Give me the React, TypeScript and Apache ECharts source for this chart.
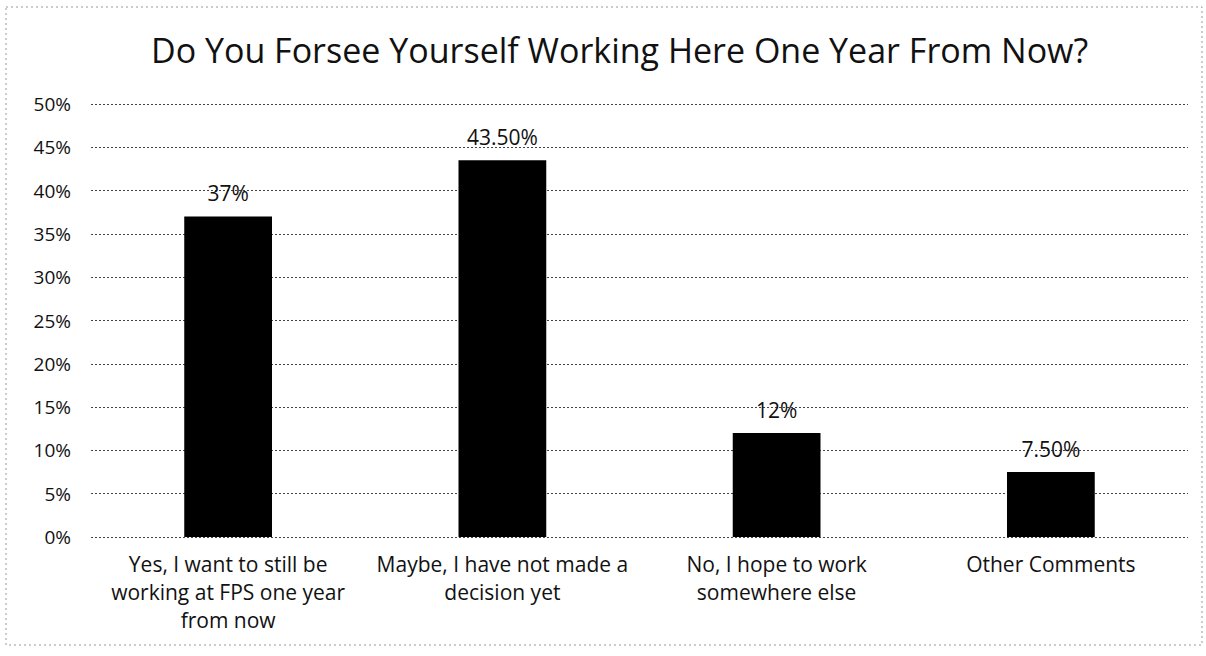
import React, { useEffect, useRef } from "react";
import * as echarts from "echarts";

const title = "Do You Forsee Yourself Working Here One Year From Now?";
const categories = [
  "Yes, I want to still be\nworking at FPS one year\nfrom now",
  "Maybe, I have not made a\ndecision yet",
  "No, I hope to work\nsomewhere else",
  "Other Comments",
];
const values = [37, 43.5, 12, 7.5];
const valueLabels = ["37%", "43.50%", "12%", "7.50%"];
const yTicks = { min: 0, max: 50, interval: 5 };

export default function App() {
  const ref = useRef<HTMLDivElement>(null);
  useEffect(() => {
    document.body.style.margin = "0";
    const chart = echarts.init(ref.current!, null, { renderer: "svg" });
    const font = "'Open Sans', Lato, sans-serif";
    chart.setOption({
      animation: false,
      backgroundColor: "#ffffff",
      title: {
        text: title,
        left: 146,
        top: 28,
        textStyle: { fontFamily: font, fontSize: 34, fontWeight: "normal", color: "#111" },
      },
      graphic: [
        {
          type: "rect",
          shape: { x: 6, y: 7, width: 1196, height: 638 },
          style: { fill: "none", stroke: "#999", lineWidth: 1, lineDash: [2, 3] },
          silent: true,
        },
      ],
      grid: { left: 91, right: 18, top: 104, bottom: 119, containLabel: false },
      xAxis: {
        type: "category",
        data: categories,
        axisLine: { show: false },
        axisTick: { show: false },
        axisLabel: {
          interval: 0,
          margin: 13,
          fontFamily: font,
          fontSize: 21,
          lineHeight: 28,
          color: "#111",
        },
      },
      yAxis: {
        type: "value",
        min: yTicks.min,
        max: yTicks.max,
        interval: yTicks.interval,
        axisLine: { show: false },
        axisTick: { show: false },
        axisLabel: {
          formatter: (v: number) => `${v}%`,
          fontFamily: font,
          fontSize: 19,
          color: "#111",
          margin: 20,
        },
        splitLine: { lineStyle: { type: [2, 2], color: "#444", width: 1 } },
      },
      series: [
        {
          type: "bar",
          data: values,
          barWidth: "32%",
          itemStyle: { color: "#000" },
          label: {
            show: true,
            position: "top",
            distance: 13,
            formatter: (p: any) => valueLabels[p.dataIndex],
            fontFamily: font,
            fontSize: 21,
            color: "#111",
          },
        },
      ],
    });
    return () => chart.dispose();
  }, []);
  return <div ref={ref} style={{ width: 1206, height: 656 }} />;
}
